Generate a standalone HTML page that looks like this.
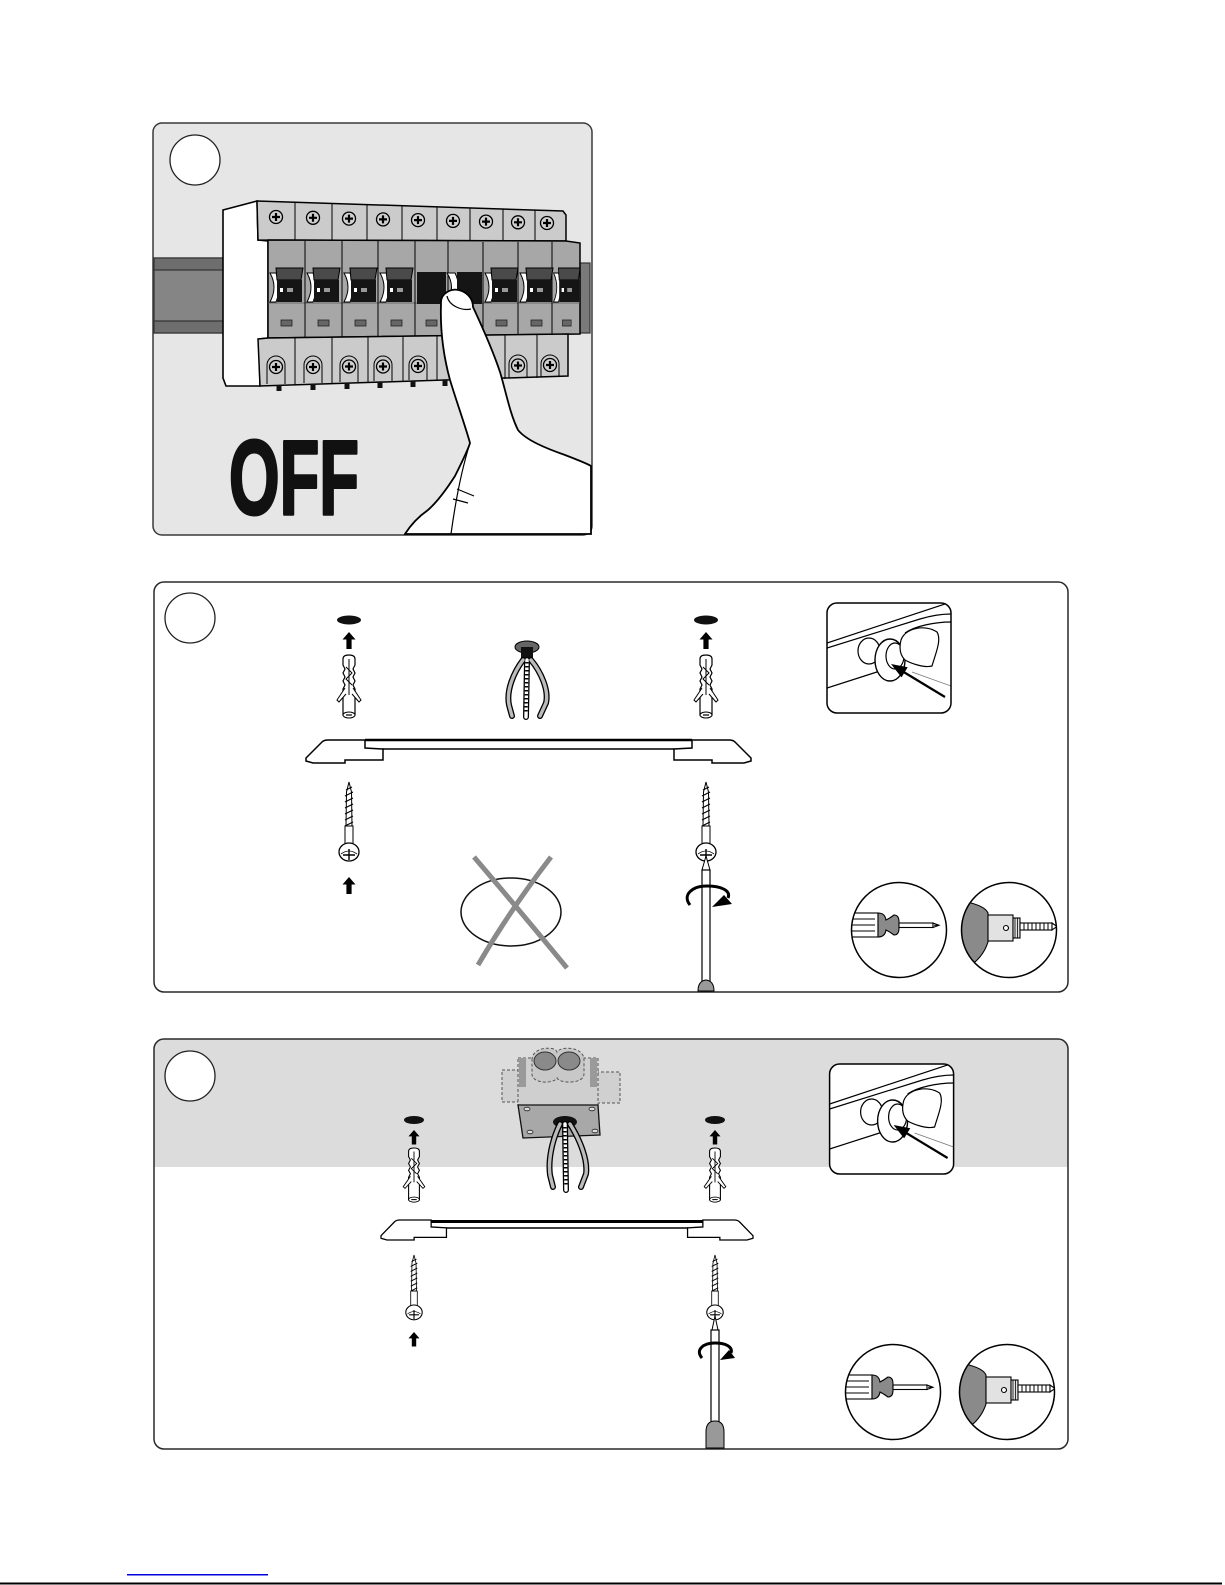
<!DOCTYPE html>
<html><head><meta charset="utf-8"><style>
html,body{margin:0;padding:0;background:#fff;}
svg{display:block}
</style></head><body>
<svg width="1225" height="1585" viewBox="0 0 1225 1585" xmlns="http://www.w3.org/2000/svg">
<defs>
  <g id="uparr"><path d="M0,0 L6.5,7.5 L2.6,7.5 L2.6,17 L-2.6,17 L-2.6,7.5 L-6.5,7.5 Z" fill="#000"/></g>
  <g id="plug">
    <path d="M-6,4 Q-6,0 0,0 Q6,0 6,4 L6,10 L4,14 L6,18 L4,22 L6,26 L4,30 L6,34 L6,60 L-6,60 L-6,34 L-4,30 L-6,26 L-4,22 L-6,18 L-4,14 L-6,10 Z" fill="#fff" stroke="#000" stroke-width="1.2"/>
    <path d="M0,4 L0,40 M-3,12 L3,18 L-3,24 L3,30" stroke="#000" fill="none" stroke-width="1"/>
    <path d="M-4,33 L-12,45 L-10,47 L-3,39 M4,33 L12,45 L10,47 L3,39" fill="#fff" stroke="#000" stroke-width="1"/>
    <ellipse cx="0" cy="60" rx="6" ry="3" fill="#fff" stroke="#000" stroke-width="1"/>
    <path d="M-3,60 L3,60" stroke="#000" stroke-width="1.2"/>
  </g>
  <g id="screw">
    <path d="M0,0 L-2.5,10 L-3,44 L3,44 L2.5,10 Z" fill="#fff" stroke="#000" stroke-width="1"/>
    <path d="M-3,8 L3,5 M-4,14 L4,10 M-4,20 L4,16 M-4,26 L4,22 M-4,32 L4,28 M-4,38 L4,34 M-4,44 L4,40" stroke="#000" stroke-width="1.2"/>
    <rect x="-4" y="44" width="8" height="19" fill="#fff" stroke="#000" stroke-width="1"/>
    <ellipse cx="0" cy="70" rx="10" ry="9" fill="#fff" stroke="#000" stroke-width="1.3"/>
    <path d="M-8,72 Q0,66 8,72" fill="none" stroke="#000" stroke-width="0.8"/>
    <path d="M-6,73 L6,73 M0,67 L0,78" stroke="#000" stroke-width="1.4"/>
  </g>
  <g id="sc">
    <circle r="6.5" fill="#d0d0d0" stroke="#000" stroke-width="1.3"/>
    <path d="M-4,0 L4,0 M0,-4 L0,4" stroke="#000" stroke-width="2.2"/>
  </g>
  <g id="brk">
    <path d="M2,273 Q10,287 2,302 L8,302 Q14,287 8,273 Z" fill="#fff" stroke="#000" stroke-width="1"/>
    <polygon points="8,268 35,268 33,280 9,280" fill="#4a4a4a" stroke="#000" stroke-width="1"/>
    <rect x="9" y="280" width="25" height="22" fill="#151515"/>
    <rect x="12" y="288" width="3" height="4" fill="#fff"/>
    <rect x="19" y="288" width="6" height="4" fill="#999"/>
    <rect x="13" y="320" width="11" height="6" fill="#666" stroke="#222" stroke-width="0.8"/>
  </g>
  <clipPath id="insclip"><rect x="827" y="603" width="124" height="110" rx="10"/></clipPath>
  <g id="inset">
    <rect x="827" y="603" width="124" height="110" rx="10" fill="#fff"/>
    <g clip-path="url(#insclip)" fill="none" stroke="#000" stroke-width="1.2">
      <path d="M827,643 L951,602"/>
      <path d="M827,648 L920,619 C930,616 940,614 951,614"/>
      <path d="M905,633 C915,626 935,622 951,622"/>
      <path d="M827,688 L880,671"/>
      <path d="M912,672 L951,686" stroke="#777" stroke-width="0.8"/>
      <ellipse cx="869" cy="651" rx="11" ry="13" fill="#fff"/>
      <ellipse cx="890" cy="660" rx="15" ry="21" fill="#fff" stroke-width="1.4"/>
      <ellipse cx="895" cy="656" rx="9" ry="13" fill="#fff"/>
      <path d="M901,640 C905,628 925,624 937,632 C942,640 935,655 932,666 C925,668 912,664 905,660 C900,655 899,648 901,640 Z" fill="#fff"/>
      <path d="M945,697 L902,671" stroke-width="2.2"/>
      <polygon points="891,664 907.7,667.2 901.5,677.4" fill="#000" stroke="none"/>
    </g>
    <rect x="827" y="603" width="124" height="110" rx="10" fill="none" stroke="#000" stroke-width="1.5"/>
  </g>
  <clipPath id="tc"><circle r="47.5"/></clipPath>
  <g id="tsd">
    <circle r="47.5" fill="#fff"/>
    <g clip-path="url(#tc)" stroke="#000" stroke-width="1.1">
      <rect x="-52" y="-17" width="31" height="24" fill="#fff"/>
      <path d="M-50,-11 L-24,-11 M-50,-5 L-24,-5 M-50,1 L-24,1" fill="none"/>
      <path d="M-21,-17 Q-14,-17 -13,-10 Q-9,-12 -5,-15 Q0,-15 0,-8 L0,-2 Q0,5 -5,5 Q-9,2 -13,0 Q-14,7 -21,7 Z" fill="#8a8a8a"/>
      <rect x="0" y="-7" width="34" height="4.5" fill="#fff"/>
      <path d="M34,-7 L40,-4.75 L34,-2.5 Z M35,-4.75 L39,-4.75" fill="#fff"/>
    </g>
    <circle r="47.5" fill="none" stroke="#000" stroke-width="1.5"/>
  </g>
  <g id="tdr">
    <circle r="47.5" fill="#fff"/>
    <g clip-path="url(#tc)" stroke="#000" stroke-width="1.1">
      <path d="M-50,-30 L-42,-28 Q-24,-24 -21,-17 L-21,12 Q-26,28 -42,38 L-50,40 Z" fill="#8a8a8a"/>
      <rect x="-21" y="-15" width="25" height="26" fill="#e2e2e2"/>
      <circle cx="-3" cy="-2" r="2.5" fill="#fff"/>
      <rect x="4" y="-12" width="7" height="20" fill="#e2e2e2"/>
      <path d="M6,-12 L6,8 M8.5,-12 L8.5,8" fill="none" stroke-width="0.8"/>
      <rect x="11" y="-7" width="32" height="7" fill="#fff"/>
      <path d="M15,-7 L15,0 M19,-7 L19,0 M23,-7 L23,0 M27,-7 L27,0 M31,-7 L31,0 M35,-7 L35,0 M39,-7 L39,0" fill="none" stroke-width="1"/>
      <path d="M43,-7 L48,-3.5 L43,0 Z" fill="#fff"/>
    </g>
    <circle r="47.5" fill="none" stroke="#000" stroke-width="1.5"/>
  </g>
  <g id="blk"><path d="M0,18 L16,2 Q18,0 22,0 L59,0 L59,8 L77,9 L77,20 L39,20 L39,23 L7,23 L0,21 Z" fill="#fff" stroke="#000" stroke-width="1.5"/></g>
  <clipPath id="p3clip"><rect x="154" y="1039" width="914" height="410" rx="10"/></clipPath>
</defs>

<!-- ================= PANEL 1 ================= -->
<rect x="153" y="123" width="439" height="412" rx="9" fill="#e6e6e6" stroke="#3a3a3a" stroke-width="1.5"/>
<circle cx="195" cy="160" r="25" fill="#fff" stroke="#222" stroke-width="1.3"/>
<g stroke="#333" stroke-width="1.2">
  <rect x="154" y="258" width="72" height="75" fill="#858585"/>
  <rect x="154" y="258" width="72" height="12" fill="#6e6e6e"/>
  <rect x="154" y="321" width="72" height="12" fill="#6e6e6e"/>
  <rect x="576" y="263" width="14" height="70" fill="#7a7a7a"/>
</g>
<!-- white end cap -->
<path d="M223,210 L257,201 L258,240 L268,241 L268,338 L259,339 L260,386 L226,386 L223,378 Z" fill="#fff" stroke="#000" stroke-width="1.6"/>
<!-- top strip -->
<path d="M257,201 L563,211 L566,215 L566,241 L258,240 Z" fill="#cbcbcb" stroke="#000" stroke-width="1.5"/>
<path d="M295,202 L295,240 M332,203 L332,240 M367,204.5 L367,240 M402,205.7 L402,240 M437,206.8 L437,240 M470,208 L470,241 M503,209 L503,241 M535,210 L535,241" stroke="#000" stroke-width="1"/>
<use href="#sc" x="276" y="217"/><use href="#sc" x="313" y="217.8"/><use href="#sc" x="349" y="218.6"/>
<use href="#sc" x="383" y="219.4"/><use href="#sc" x="418" y="220.1"/><use href="#sc" x="453" y="220.9"/>
<use href="#sc" x="486" y="221.6"/><use href="#sc" x="518" y="222.3"/><use href="#sc" x="547" y="223"/>
<!-- middle body -->
<path d="M268,240 L566,241 L580,243 L580,334 L268,338 Z" fill="#a7a7a7" stroke="#000" stroke-width="1.5"/>
<path d="M268,303 L580,303" stroke="#555" stroke-width="0.8"/>
<path d="M305,241 L305,337 M342,241 L342,337 M378,241 L378,337 M415,241 L415,336 M448,241 L448,336 M483,242 L483,336 M518,242 L518,335 M552,242 L552,335" stroke="#000" stroke-width="1"/>
<use href="#brk" x="268"/><use href="#brk" x="305"/><use href="#brk" x="342"/><use href="#brk" x="378"/>
<use href="#brk" x="483"/><use href="#brk" x="518"/>
<use href="#brk" transform="translate(552,0) scale(0.8,1)"/>
<!-- OFF breakers -->
<rect x="417" y="272" width="29" height="32" fill="#151515"/>
<path d="M447,273 Q456,287 447,302 L455,302 Q462,287 455,273 Z" fill="#fff" stroke="#000" stroke-width="1"/>
<rect x="457" y="272" width="25" height="32" fill="#151515"/>
<rect x="426" y="320" width="11" height="6" fill="#666" stroke="#222" stroke-width="0.8"/>
<!-- bottom strip -->
<path d="M258,339 L268,338 L568,334 L568,376 L260,386 Z" fill="#cbcbcb" stroke="#000" stroke-width="1.5"/>
<path d="M295,338 L295,385 M332,337.5 L332,384 M368,337 L368,383 M403,336.5 L403,382 M437,336 L437,381 M472,336 L472,380 M505,335.5 L505,379 M537,335 L537,378" stroke="#000" stroke-width="1"/>
<g fill="none" stroke="#000" stroke-width="1">
  <path d="M267,384 L267,365 A9,9 0 0 1 285,365 L285,384"/>
  <path d="M304,383 L304,365 A9,9 0 0 1 322,365 L322,383"/>
  <path d="M340,382 L340,365 A9,9 0 0 1 358,365 L358,382"/>
  <path d="M374,381 L374,365 A9,9 0 0 1 392,365 L392,381"/>
  <path d="M409,380 L409,365 A9,9 0 0 1 427,365 L427,380"/>
  <path d="M509,378 L509,364 A9,9 0 0 1 527,364 L527,378"/>
  <path d="M541,377 L541,364 A9,9 0 0 1 559,364 L559,377"/>
</g>
<use href="#sc" x="276" y="367"/><use href="#sc" x="313" y="367"/><use href="#sc" x="349" y="366.5"/>
<use href="#sc" x="383" y="366.5"/><use href="#sc" x="418" y="366"/><use href="#sc" x="518" y="365.5"/><use href="#sc" x="550" y="365"/>
<g fill="#111">
  <rect x="276.5" y="385" width="5" height="6"/><rect x="310.5" y="384" width="5" height="6"/>
  <rect x="344.5" y="383" width="5" height="6"/><rect x="377.5" y="382" width="5" height="6"/>
  <rect x="410.5" y="381" width="5" height="6"/><rect x="442.5" y="380" width="5" height="6"/>
</g>
<!-- finger / hand -->
<path d="M441,304 C440,293 452,287 462,291 C469,294 473,300 473,307 C480,322 492,348 500,372 C506,392 510,414 518,430 C526,440 545,448 565,455 C578,460 588,464 591,466 L591,534 L405,534 C410,526 418,517 428,510 C436,503 446,490 455,476 C462,462 468,450 470,443 C465,425 456,400 450,380 C444,358 440,332 441,304 Z" fill="#fff" stroke="#000" stroke-width="1.8"/>
<g fill="none" stroke="#000" stroke-width="1.2">
  <path d="M447,296 C449,306 462,311 471,309"/>
  <path d="M470,443 C464,462 457,490 451,534"/>
  <path d="M457,489 L474,496 M453,499 L468,503"/>
</g>
<text x="229" y="514" font-family="'Liberation Sans', sans-serif" font-weight="bold" font-size="106" textLength="130" lengthAdjust="spacingAndGlyphs" fill="#111" stroke="#111" stroke-width="3" stroke-linejoin="round">OFF</text>

<!-- ================= PANEL 2 ================= -->
<rect x="154" y="582" width="914" height="410" rx="10" fill="#fff" stroke="#2a2a2a" stroke-width="1.5"/>
<circle cx="190" cy="618" r="25" fill="#fff" stroke="#222" stroke-width="1.3"/>
<ellipse cx="349" cy="620" rx="12" ry="4.5" fill="#111"/>
<ellipse cx="706" cy="620" rx="12" ry="4.5" fill="#111"/>
<use href="#uparr" x="349" y="632"/><use href="#uparr" x="706" y="632"/>
<use href="#plug" x="349" y="655"/><use href="#plug" x="706" y="655"/>
<!-- cable -->
<ellipse cx="527" cy="647" rx="12" ry="6" fill="#666" stroke="#000" stroke-width="1"/>
<rect x="521" y="647" width="12" height="14" fill="#111"/>
<g fill="none" stroke-linecap="round">
  <path d="M523,660 C514,672 506,690 509,705 L512,716" stroke="#000" stroke-width="6"/>
  <path d="M531,660 C541,672 549,690 546,703 L540,716" stroke="#000" stroke-width="6"/>
  <path d="M527,660 L526,717" stroke="#000" stroke-width="6"/>
  <path d="M523,660 C514,672 506,690 509,705 L512,716" stroke="#bbb" stroke-width="3.4"/>
  <path d="M531,660 C541,672 549,690 546,703 L540,716" stroke="#bbb" stroke-width="3.4"/>
  <path d="M527,660 L526,717" stroke="#fff" stroke-width="3.4"/>
  <path d="M527,662 L526,712" stroke="#000" stroke-width="3.4" stroke-dasharray="1.5 2.5" stroke-linecap="butt"/>
</g>
<!-- bar -->
<rect x="365" y="740" width="327" height="9" fill="#fff"/>
<path d="M365,740 L692,740" stroke="#000" stroke-width="2.5"/>
<path d="M383,749 L674,749" stroke="#000" stroke-width="1.5"/>
<use href="#blk" x="306" y="740"/>
<use href="#blk" transform="translate(751,740) scale(-1,1)"/>
<use href="#screw" x="349" y="782"/><use href="#screw" x="706" y="782"/>
<use href="#uparr" x="349" y="877"/>
<!-- X -->
<ellipse cx="511" cy="912" rx="50" ry="34" fill="none" stroke="#111" stroke-width="1.5"/>
<path d="M474,857 Q515,905 567,968 M551,857 Q510,910 478,965" fill="none" stroke="#8a8a8a" stroke-width="5"/>
<!-- screwdriver -->
<path d="M706,856 L702,870 L710,870 Z" fill="#fff" stroke="#000" stroke-width="1"/>
<rect x="702" y="870" width="8" height="121" fill="#fff" stroke="#000" stroke-width="1.2"/>
<path d="M698,991 Q698,981 706,980 Q714,981 714,991 Z" fill="#999" stroke="#000" stroke-width="1"/>
<path d="M690,905 C682,895 692,886 707,886 C722,886 731,891 728,898" fill="none" stroke="#000" stroke-width="3"/>
<polygon points="712,907 724,895 732,904" fill="#000"/>
<use href="#inset"/>
<use href="#tsd" x="899" y="930"/>
<use href="#tdr" x="1009" y="930"/>

<!-- ================= PANEL 3 ================= -->
<rect x="154" y="1039" width="914" height="410" rx="10" fill="#fff"/>
<rect x="154" y="1039" width="914" height="128" fill="#dcdcdc" clip-path="url(#p3clip)"/>
<rect x="154" y="1039" width="914" height="410" rx="10" fill="none" stroke="#2a2a2a" stroke-width="1.5"/>
<circle cx="190" cy="1076" r="25" fill="#fff" stroke="#222" stroke-width="1.3"/>
<!-- junction box -->
<g stroke="#555" stroke-dasharray="3 2" stroke-width="1">
  <rect x="502" y="1070" width="18" height="32" fill="#d0d0d0"/>
  <rect x="596" y="1072" width="24" height="31" fill="#d0d0d0"/>
  <rect x="518" y="1058" width="80" height="47" fill="#cfcfcf"/>
</g>
<rect x="519" y="1058" width="7" height="29" fill="#9a9a9a"/>
<rect x="590" y="1058" width="7" height="29" fill="#9a9a9a"/>
<path d="M532,1060 C532,1046 556,1046 557,1052 C560,1046 584,1046 584,1060 L584,1074 C584,1084 560,1084 557,1078 C554,1084 532,1084 532,1074 Z" fill="#c8c8c8" stroke="#555" stroke-dasharray="3 2"/>
<ellipse cx="545" cy="1061" rx="11" ry="9" fill="#8a8a8a" stroke="#333"/>
<ellipse cx="569" cy="1061" rx="11" ry="9" fill="#8a8a8a" stroke="#333"/>
<path d="M518,1105 L598,1105 L600,1135 L523,1138 Z" fill="#a8a8a8" stroke="#111" stroke-width="1.3"/>
<g fill="#ddd" stroke="#222" stroke-width="0.8">
  <ellipse cx="527" cy="1109" rx="3" ry="1.8"/><ellipse cx="592" cy="1109" rx="3" ry="1.8"/>
  <ellipse cx="530" cy="1132" rx="3" ry="1.8"/><ellipse cx="595" cy="1131" rx="3" ry="1.8"/>
</g>
<ellipse cx="565" cy="1122" rx="12" ry="6" fill="#111"/>
<g fill="none" stroke-linecap="round">
  <path d="M560,1124 C552,1140 548,1160 550,1175 L553,1187" stroke="#000" stroke-width="6"/>
  <path d="M570,1124 C580,1140 588,1160 586,1174 L581,1187" stroke="#000" stroke-width="6"/>
  <path d="M565,1124 L566,1190" stroke="#000" stroke-width="6"/>
  <path d="M560,1124 C552,1140 548,1160 550,1175 L553,1187" stroke="#bbb" stroke-width="3.4"/>
  <path d="M570,1124 C580,1140 588,1160 586,1174 L581,1187" stroke="#bbb" stroke-width="3.4"/>
  <path d="M565,1124 L566,1190" stroke="#fff" stroke-width="3.4"/>
  <path d="M565,1127 L566,1186" stroke="#000" stroke-width="3.4" stroke-dasharray="1.5 2.5" stroke-linecap="butt"/>
</g>
<ellipse cx="414" cy="1120" rx="10" ry="4" fill="#111"/>
<ellipse cx="715" cy="1120" rx="10" ry="4" fill="#111"/>
<use href="#uparr" transform="translate(414,1130) scale(0.85)"/>
<use href="#uparr" transform="translate(715,1130) scale(0.85)"/>
<use href="#plug" transform="translate(414,1148) scale(0.9,0.86)"/>
<use href="#plug" transform="translate(715,1148) scale(0.9,0.86)"/>
<!-- bar 3 -->
<rect x="431" y="1221" width="272" height="7" fill="#fff"/>
<path d="M431,1221.5 L703,1221.5" stroke="#000" stroke-width="3"/>
<path d="M446,1228 L688,1228" stroke="#000" stroke-width="1.5"/>
<use href="#blk" transform="translate(381,1220) scale(0.85,0.87)"/>
<use href="#blk" transform="translate(753,1220) scale(-0.85,0.87)"/>
<use href="#screw" transform="translate(414,1255) scale(0.82)"/>
<use href="#screw" transform="translate(715,1255) scale(0.82)"/>
<use href="#uparr" transform="translate(414,1332) scale(0.85)"/>
<!-- screwdriver 3 -->
<path d="M715,1316 L712,1330 L718,1330 Z" fill="#fff" stroke="#000" stroke-width="1"/>
<rect x="711" y="1330" width="8" height="118" fill="#fff" stroke="#000" stroke-width="1.2"/>
<path d="M706,1448 L706,1432 Q706,1421 715,1421 Q724,1421 724,1432 L724,1448 Z" fill="#999" stroke="#000" stroke-width="1"/>
<path d="M702,1358 C695,1350 703,1343 715,1343 C726,1343 733,1347 731,1353" fill="none" stroke="#000" stroke-width="3"/>
<polygon points="720,1360 729,1350 735,1358" fill="#000"/>
<use href="#inset" transform="translate(2.6,461)"/>
<use href="#tsd" x="893" y="1392"/>
<use href="#tdr" x="1007" y="1392"/>

<!-- bottom lines -->
<rect x="127" y="1574" width="141" height="1.5" fill="#0000dd"/>
<rect x="0" y="1582.5" width="1222" height="2" fill="#000"/>
</svg>
</body></html>
